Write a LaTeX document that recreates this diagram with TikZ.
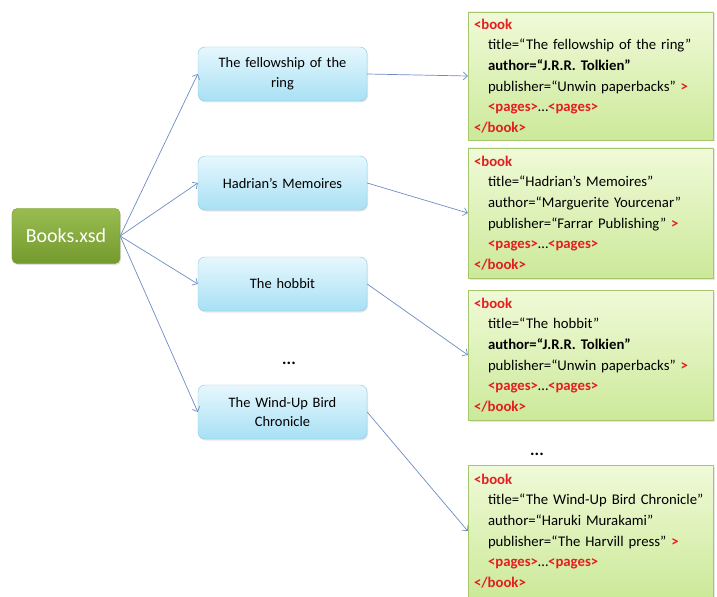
\documentclass[tikz,border=0pt]{standalone}
\usepackage{fontspec}
\setmainfont{Carlito}
\usetikzlibrary{shadows,arrows.meta}

\definecolor{rootfill}{HTML}{8DB53E}
\definecolor{rootdark}{HTML}{74992C}
\definecolor{bluetop}{HTML}{E6F7FD}
\definecolor{bluebot}{HTML}{A8E0F5}
\definecolor{blueline}{HTML}{86C8E2}
\definecolor{greentop}{HTML}{F0FAD8}
\definecolor{greenbot}{HTML}{CCE99A}
\definecolor{greenline}{HTML}{A8C66C}
\definecolor{linkblue}{HTML}{6E8BC4}
\definecolor{tagred}{HTML}{E41E1E}

\newcommand{\tagred}[1]{\textcolor{tagred}{\textbf{#1}}}
\newcommand{\attr}{\hspace*{14bp}}

\tikzset{
  rootbox/.style={rounded corners=5bp, draw=rootdark, top color=rootfill!90!white,
    bottom color=rootdark, text=white, font=\fontsize{20}{24}\selectfont,
    minimum width=108bp, minimum height=55bp,
    drop shadow={opacity=0.25, shadow xshift=1bp, shadow yshift=-1.5bp}},
  titlebox/.style={rounded corners=7bp, draw=blueline, top color=bluetop,
    bottom color=bluebot, text width=155bp, align=center,
    minimum width=169bp, minimum height=54bp, inner sep=2bp,
    font=\fontsize{14.5}{20}\selectfont,
    drop shadow={opacity=0.2, shadow xshift=1bp, shadow yshift=-1.5bp}},
  xmlbox/.style={draw=greenline, top color=greentop, bottom color=greenbot,
    text width=233bp, align=left, minimum width=245bp, inner xsep=6bp, inner ysep=2bp,
    font=\fontsize{14.8}{20.8}\selectfont,
    drop shadow={opacity=0.2, shadow xshift=1.5bp, shadow yshift=-1.5bp}},
  link/.style={-{Straight Barb[length=4bp, width=8bp]}, draw=linkblue, line width=0.7bp},
  gap/.style={font=\bfseries\fontsize{17}{17}\selectfont}
}

\begin{document}
\begin{tikzpicture}[x=1bp, y=-1bp]
  \useasboundingbox (0,0) rectangle (717,597);

  % schema
  \node[rootbox] (books) at (66,236) {Books.xsd};

  % book titles
  \node[titlebox] (b1) at (282.5,74) {The fellowship of the\\ring};
  \node[titlebox] (b2) at (282.5,183) {Hadrian's Memoires};
  \node[titlebox] (b3) at (282.5,284) {The hobbit};
  \node[gap] (dotsl) at (289,363) {...};
  \node[titlebox] (b4) at (282.5,412) {The Wind-Up Bird\\Chronicle};

  % xml instances
  \node[xmlbox, minimum height=128bp] (x1) at (590.5,76) {%
    \tagred{<book}\\
    \attr title=“The fellowship of the ring”\\
    \attr\textbf{author=“J.R.R. Tolkien”}\\
    \attr publisher=“Unwin paperbacks” \tagred{>}\\
    \attr\tagred{<pages>}…\tagred{<pages>}\\
    \tagred{</book>}};
  \node[xmlbox, minimum height=130bp] (x2) at (590.5,213) {%
    \tagred{<book}\\
    \attr title=“Hadrian's Memoires”\\
    \attr author=“Marguerite Yourcenar”\\
    \attr publisher=“Farrar Publishing” \tagred{>}\\
    \attr\tagred{<pages>}…\tagred{<pages>}\\
    \tagred{</book>}};
  \node[xmlbox, minimum height=130bp] (x3) at (590.5,355) {%
    \tagred{<book}\\
    \attr title=“The hobbit”\\
    \attr\textbf{author=“J.R.R. Tolkien”}\\
    \attr publisher=“Unwin paperbacks” \tagred{>}\\
    \attr\tagred{<pages>}…\tagred{<pages>}\\
    \tagred{</book>}};
  \node[gap] (dotsr) at (537,454) {...};
  \node[xmlbox, minimum height=132bp] (x4) at (590.5,531) {%
    \tagred{<book}\\
    \attr title=“The Wind-Up Bird Chronicle”\\
    \attr author=“Haruki Murakami”\\
    \attr publisher=“The Harvill press” \tagred{>}\\
    \attr\tagred{<pages>}…\tagred{<pages>}\\
    \tagred{</book>}};

  % links
  \foreach \i in {1,...,4} {
    \draw[link] (books.east) -- (b\i.west);
    \draw[link] (b\i.east) -- (x\i.west);
  }
\end{tikzpicture}
\end{document}
